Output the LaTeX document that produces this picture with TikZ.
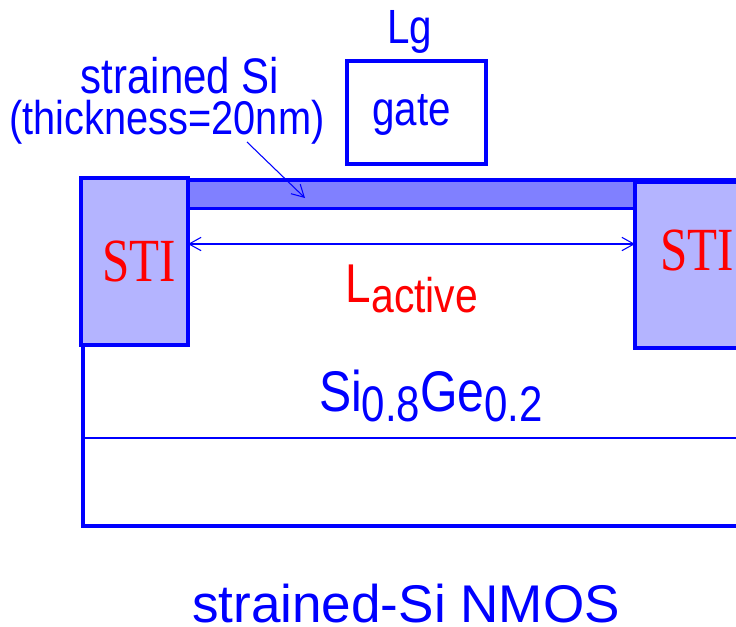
\documentclass[tikz,border=0pt]{standalone}
\usepackage{fontspec}
\setmainfont[FakeStretch=0.84]{Liberation Sans}
\newfontfamily\plainsans{Liberation Sans}
\newfontfamily\serifx[FakeStretch=0.8]{Liberation Serif}
\usetikzlibrary{arrows.meta}
\definecolor{bl}{RGB}{0,0,255}
\definecolor{stifill}{RGB}{180,180,255}
\definecolor{sifill}{RGB}{128,128,255}
\tikzset{x=0.75pt,y=-0.75pt,
 thick box/.style={draw=bl,line width=2.8pt,inner sep=0pt,outer sep=0pt},
 thin line/.style={draw=bl,line width=0.8pt},
 barb/.style={-{Straight Barb[length=9pt,width=10pt]}},
 barbs/.style={{Straight Barb[length=9pt,width=10pt]}-{Straight Barb[length=9pt,width=10pt]}},
 lab/.style={text=bl,inner sep=0pt},
 stitext/.style={text=red,inner sep=0pt,font=\serifx\fontsize{46}{48}\selectfont},
}
\begin{document}
\begin{tikzpicture}
\useasboundingbox (0,0) rectangle (736,626);
\clip (0,0) rectangle (736,626);
\draw[thick box] (760,526) -- (83,526) -- (83,345);
\draw[thick box,fill=sifill] (188,180) rectangle (760,208.5);
\draw[thin line] (83,438) -- (760,438);
\node[thick box,fill=stifill,minimum width=80.25pt,minimum height=125.25pt] (stil) at (134.5,261.5) {};
\node[thick box,fill=stifill,minimum width=90pt,minimum height=124.5pt] (stir) at (695,265) {};
\node[stitext] (stiltxt) at (139.5,261) {STI};
\node[stitext] (stirtxt) at (697,250) {STI};
\node[thick box,minimum width=104.25pt,minimum height=77.25pt] (gate) at (416.5,112.5) {};
\node[lab,font=\fontsize{36}{38}\selectfont] (gatetxt) at (411.5,115) {gate};
\node[lab,font=\fontsize{36}{38}\selectfont] (lg) at (410,32) {Lg};
\node[lab,font=\fontsize{37.5}{38}\selectfont] (ssi) at (180,76) {strained Si};
\node[lab,font=\fontsize{35.5}{38}\selectfont] (thk) at (167,122) {(thickness=20nm)};
\coordinate (a1) at (247,142);
\coordinate (a2) at (305,198);
\draw[thin line,barb] (a1) -- (a2);
\draw[thin line,barbs] (stil.east |- 0,244) -- (stir.west |- 0,244);
\node[inner sep=0pt,text=red,font=\fontsize{41}{42}\selectfont] (lact) at (412,289) {L\raisebox{-8pt}{\fontsize{36.5}{38}\selectfont active}};
\node[lab,font=\fontsize{43}{44}\selectfont] (sige) at (431,396) {Si\raisebox{-8pt}{\fontsize{37.5}{38}\selectfont 0.8}Ge\raisebox{-8pt}{\fontsize{37.5}{38}\selectfont 0.2}};
\node[lab,font=\plainsans\fontsize{39.8}{42}\selectfont] (title) at (406,604) {strained-Si NMOS};
\end{tikzpicture}
\end{document}
